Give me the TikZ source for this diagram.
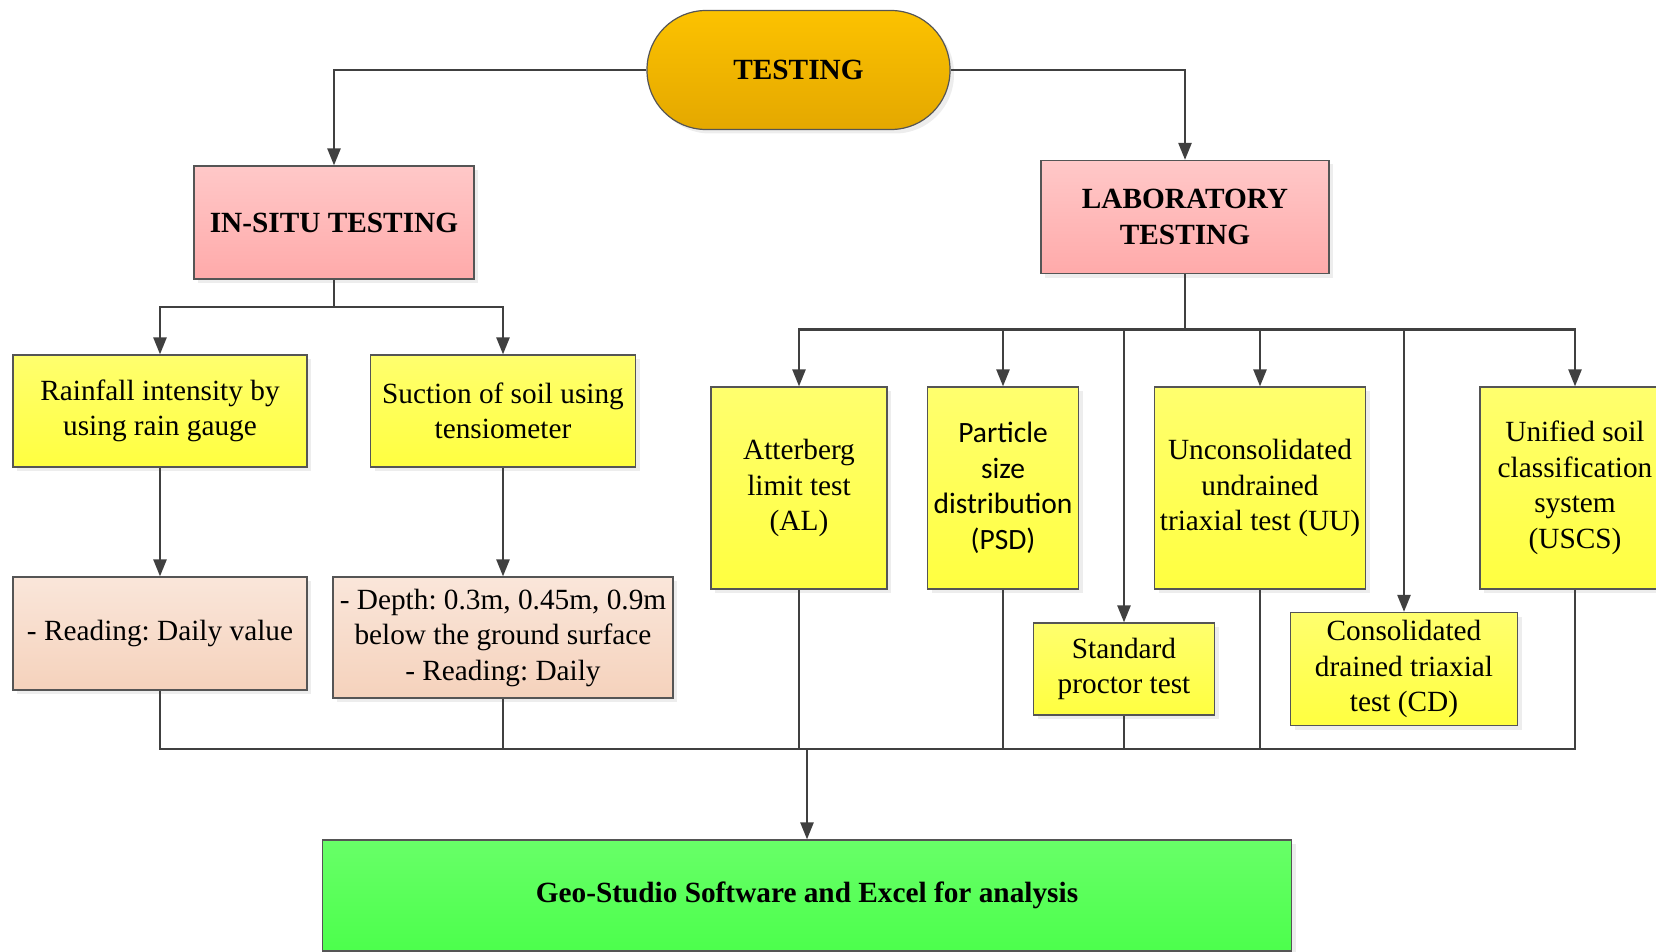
\documentclass[tikz,border=0pt]{standalone}
\usepackage{fontspec}
\setmainfont{Liberation Serif}
\newfontfamily\calibfont{Carlito}
\usetikzlibrary{positioning,arrows.meta,shadows}
\frenchspacing
\definecolor{linegray}{HTML}{404040}
\definecolor{edgegray}{HTML}{555555}
\tikzset{
box/.style = {rectangle, draw=edgegray, line width=1.2pt, align=center, inner sep=2pt,
   font=\fontsize{29.3}{35.5}\selectfont,
   drop shadow={shadow xshift=4pt, shadow yshift=-4pt, fill=black!14}},
ybox/.style = {box, top color={rgb,255:red,255;green,255;blue,110}, bottom color={rgb,255:red,255;green,255;blue,64}},
pbox/.style = {box, top color={rgb,255:red,255;green,200;blue,200}, bottom color={rgb,255:red,255;green,170;blue,170}},
sbox/.style = {box, top color={rgb,255:red,250;green,230;blue,218}, bottom color={rgb,255:red,245;green,210;blue,188}},
gbox/.style = {box, top color={rgb,255:red,104;green,255;blue,104}, bottom color={rgb,255:red,76;green,255;blue,76}},
bold/.style = {font=\fontsize{29.3}{35.5}\selectfont\bfseries},
conn/.style = {draw=linegray, line width=2.5pt},
arr/.style = {conn, -{Triangle[length=17pt,width=13pt]}}
}

\begin{document}
\begin{tikzpicture}[x=1pt, y=-1pt]
\useasboundingbox (0,0) rectangle (1656,952);

% top
\node [box, bold, rounded corners=59pt, minimum width=303pt, minimum height=119pt,
   top color={rgb,255:red,252;green,194;blue,0}, bottom color={rgb,255:red,228;green,168;blue,0}]
   (testing) at (798.5,70) {TESTING};
\node [pbox, bold, minimum width=280pt, minimum height=113pt] (insitu) at (334,222.5) {IN-SITU TESTING};
\node [pbox, bold, minimum width=288pt, minimum height=113pt] (lab) at (1185,217) {LABORATORY\\TESTING};

% in-situ side
\node [ybox, minimum width=294pt, minimum height=112pt] (rain) at (160,411) {Rainfall intensity by\\using rain gauge};
\node [ybox, minimum width=265pt, minimum height=112pt] (suction) at (503,411) {Suction of soil using\\tensiometer};
\node [sbox, minimum width=294pt, minimum height=113pt] (reading) at (160,633.5) {- Reading: Daily value};
\node [sbox, minimum width=340pt, minimum height=121pt] (depth) at (503,637.5) {- Depth: 0.3m, 0.45m, 0.9m\\below the ground surface\\- Reading: Daily};

% laboratory side
\node [ybox, minimum width=176pt, minimum height=202pt] (atter) at (799,488) {Atterberg\\limit test\\(AL)};
\node [ybox, minimum width=151pt, minimum height=202pt, font=\fontsize{29.5}{35.5}\calibfont] (psd) at (1003,488) {Particle\\size\\distribution\\(PSD)};
\node [ybox, minimum width=211pt, minimum height=202pt] (uu) at (1260,488) {Unconsolidated\\undrained\\triaxial test (UU)};
\node [ybox, minimum width=190pt, minimum height=202pt] (uscs) at (1575,488) {Unified soil\\classification\\system\\(USCS)};
\node [ybox, minimum width=181pt, minimum height=92pt] (spt) at (1124,669) {Standard\\proctor test};
\node [ybox, minimum width=227pt, minimum height=113pt] (cd) at (1404,669) {Consolidated\\drained triaxial\\test (CD)};

% bottom
\node [gbox, bold, minimum width=969pt, minimum height=111pt] (geo) at (807,895.5) {Geo-Studio Software and Excel for analysis};

\coordinate (isbus) at (334,307);
\coordinate (labbus) at (1185,329.5);
\coordinate (bus) at (807,749);

\draw [arr] (testing.west) -| (insitu.north);
\draw [arr] (testing.east) -| (lab.north);

\draw [conn] (insitu.south) -- (isbus);
\draw [arr] (isbus) -| (rain.north);
\draw [arr] (isbus) -| (suction.north);
\draw [arr] (rain) -- (reading);
\draw [arr] (suction.south) -- (suction.south |- depth.north);

\draw [conn] (lab.south) -- (labbus);
\foreach \n in {atter,psd,spt,uu,cd,uscs}
   \draw [arr] (labbus) -| (\n.north);

\foreach \n in {reading,depth,atter,psd,spt,uu,uscs}
   \draw [conn] (\n.south) |- (bus);
\draw [arr] (bus) -- (geo.north);
\end{tikzpicture}
\end{document}
